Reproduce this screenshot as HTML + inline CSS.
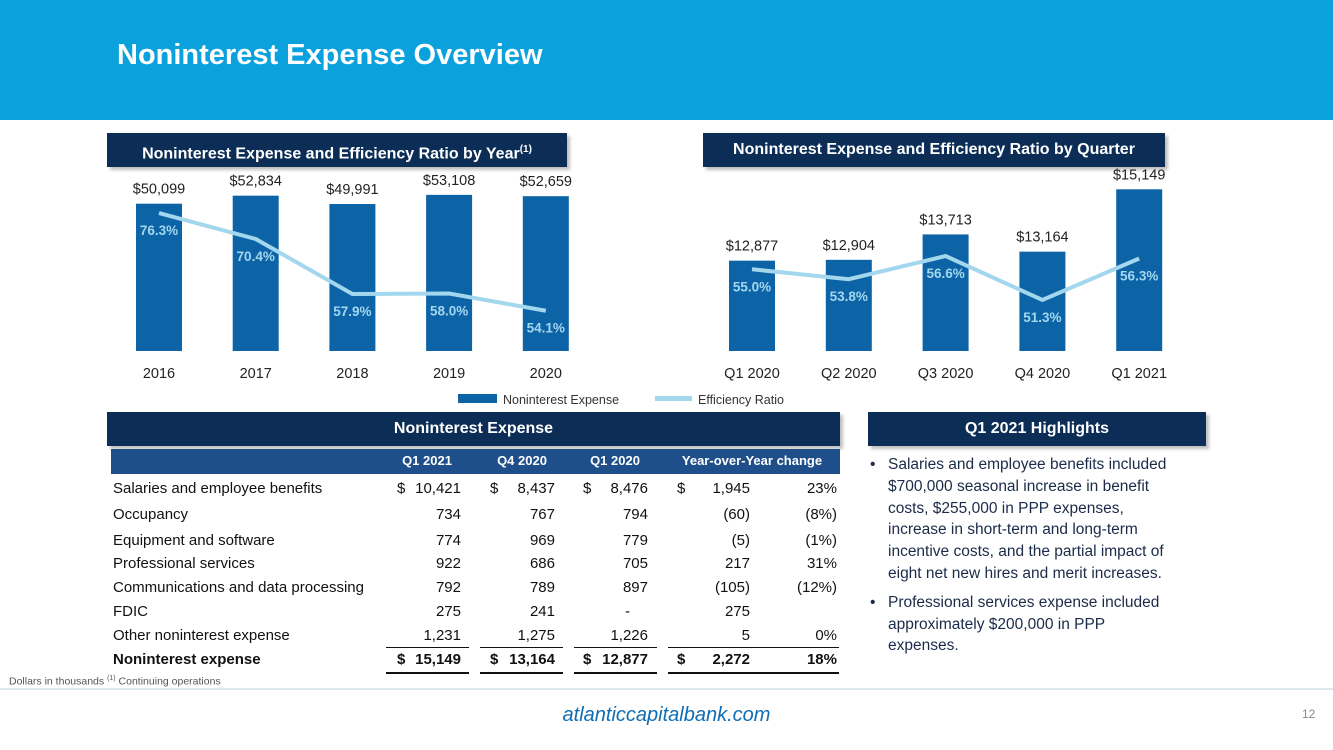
<!DOCTYPE html>
<html><head><meta charset="utf-8"><style>
body{margin:0;width:1333px;height:750px;position:relative;background:#fff;font-family:"Liberation Sans",sans-serif;overflow:hidden}
.abs{position:absolute}
.navy{background:#0b2d56;color:#fff;font-weight:bold;font-size:16px;text-align:center;box-shadow:3px 3px 3px rgba(0,0,0,.25)}
.t{position:absolute;font-size:15px;color:#111;white-space:nowrap}
.r{text-align:right}
</style></head><body>
<div class="abs" style="left:0;top:0;width:1333px;height:120px;background:#0aa1dd"></div>
<div class="abs" style="left:117px;top:39px;font-size:29px;font-weight:bold;color:#fff">Noninterest Expense Overview</div>

<div class="abs navy" style="left:107px;top:133px;width:460px;height:34px;line-height:34px">Noninterest Expense and Efficiency Ratio by Year<sup style="font-size:10px">(1)</sup></div>
<div class="abs navy" style="left:703px;top:133px;width:462px;height:34px;line-height:34px">Noninterest Expense and Efficiency Ratio by Quarter</div>

<svg class="abs" style="left:0;top:0" width="1333" height="420" id="svg"></svg>

<div class="abs navy" style="left:107px;top:412px;width:733px;height:34px;line-height:34px">Noninterest Expense</div>
<div class="abs" style="left:111px;top:449px;width:729px;height:25px;background:#1f4f8b"></div>
<div id="table"></div>

<div class="abs navy" style="left:868px;top:412px;width:338px;height:34px;line-height:34px">Q1 2021 Highlights</div>
<div class="abs" style="left:870px;top:454px;font-size:15.5px;line-height:21.8px;color:#1b2b48;white-space:nowrap">
<div style="position:relative;padding-left:18px"><span style="position:absolute;left:0">•</span>Salaries and employee benefits included<br>$700,000 seasonal increase in benefit<br>costs, $255,000 in PPP expenses,<br>increase in short-term and long-term<br>incentive costs, and the partial impact of<br>eight net new hires and merit increases.</div>
<div style="position:relative;padding-left:18px;margin-top:7px"><span style="position:absolute;left:0">•</span>Professional services expense included<br>approximately $200,000 in PPP<br>expenses.</div>
</div>

<div class="abs" style="left:9px;top:675px;font-size:10.5px;color:#555">Dollars in thousands <sup style="font-size:7px">(1)</sup> Continuing operations</div>
<div class="abs" style="left:0;top:688px;width:1333px;height:2px;background:#dce8ee"></div>
<div class="abs" style="left:0;width:1333px;top:704px;text-align:center;font-size:20px;font-style:italic;color:#0f6db4">atlanticcapitalbank.com</div>
<div class="abs" style="left:1302px;top:707px;font-size:12px;color:#888">12</div>

<script>
const yearCats=["2016","2017","2018","2019","2020"];
const yearExpense=[50099,52834,49991,53108,52659];
const yearRatio=[76.3,70.4,57.9,58.0,54.1];
const qCats=["Q1 2020","Q2 2020","Q3 2020","Q4 2020","Q1 2021"];
const qExpense=[12877,12904,13713,13164,15149];
const qRatio=[55.0,53.8,56.6,51.3,56.3];

const NS="http://www.w3.org/2000/svg";
const svg=document.getElementById('svg');
function mk(tag,attrs,txt){const e=document.createElementNS(NS,tag);for(const k in attrs)e.setAttribute(k,attrs[k]);if(txt!=null)e.textContent=txt;svg.appendChild(e);return e;}
const fmt=v=>"$"+v.toLocaleString("en-US");
function chart(cats,exp,ratio,x0,step,barY,lineY,prefix){
  const base=351,bw=46;const pts=[];
  cats.forEach((c,i)=>{
    const cx=x0+i*step;const top=barY(exp[i]);
    const b=mk('rect',{x:cx-bw/2,y:top,width:bw,height:base-top,fill:'#0c63a6'});
    
    
    const l=mk('text',{x:cx,y:top-10,'text-anchor':'middle','font-size':14.5,fill:'#222'},fmt(exp[i]));
    
    
    const xl=mk('text',{x:cx,y:378,'text-anchor':'middle','font-size':14.5,fill:'#222'},c);
    
    
    pts.push([cx,lineY(ratio[i])]);
  });
  const ln=mk('polyline',{points:pts.map(p=>p.join(',')).join(' '),fill:'none',stroke:'#a3d7ee','stroke-width':4});
  
  
  pts.forEach((p,i)=>{
    const t=mk('text',{x:p[0],y:p[1]+22,'text-anchor':'middle','font-size':13.5,'font-weight':'bold',fill:'#a3d7ee'},ratio[i].toFixed(1)+"%");
    
    
  });
}
chart(yearCats,yearExpense,yearRatio,159,96.7,v=>351-v*0.00294,v=>294-(v-57.9)*4.4,'year');
chart(qCats,qExpense,qRatio,752,96.8,v=>351-(v-10000)*0.0314,v=>256-(v-56.6)*8.3,'quarter');
let e=mk('rect',{x:458,y:394,width:39,height:9,fill:'#0c63a6'});

e=mk('text',{x:503,y:404,'font-size':12.5,fill:'#333'},'Noninterest Expense');

e=mk('rect',{x:655,y:396,width:37,height:5,fill:'#a3d7ee'});

e=mk('text',{x:698,y:404,'font-size':12.5,fill:'#333'},'Efficiency Ratio');


const tb=document.getElementById('table');
const heads=[["Q1 2021",427],["Q4 2020",522],["Q1 2020",615],["Year-over-Year change",752]];
let h='';
heads.forEach(a=>{h+=`<div class="t" style="left:${a[1]-100}px;width:200px;text-align:center;top:453px;color:#fff;font-weight:bold;font-size:13px">${a[0]}</div>`;});
const rows=[
["Salaries and employee benefits","10,421","8,437","8,476","1,945","23%",1],
["Occupancy","734","767","794","(60)","(8%)",0],
["Equipment and software","774","969","779","(5)","(1%)",0],
["Professional services","922","686","705","217","31%",0],
["Communications and data processing","792","789","897","(105)","(12%)",0],
["FDIC","275","241","-","275","",0],
["Other noninterest expense","1,231","1,275","1,226","5","0%",0],
["Noninterest expense","15,149","13,164","12,877","2,272","18%",1]];
const ys=[489,515,541,564,588,612,636,660];
const rights=[461,555,648,750,837];const dollars=[397,490,583,677];
rows.forEach((r,i)=>{
  const y=ys[i]-9;const bold=i==7?'font-weight:bold;':'';
  h+=`<div class="t" style="left:113px;top:${y}px;${bold}">${r[0]}</div>`;
  for(let c=0;c<5;c++){
    h+=`<div class="t r" style="left:${rights[c]-100}px;width:100px;top:${y}px;${bold}${r[0]=="FDIC"&&c==2?'padding-right:18px;width:82px;':''}">${r[c+1]}</div>`;
    if(r[6]&&c<4) h+=`<div class="t" style="left:${dollars[c]}px;top:${y}px;${bold}">$</div>`;
  }
});
[[386,469],[480,563],[574,657],[668,839]].forEach(a=>{
  h+=`<div class="abs" style="left:${a[0]}px;width:${a[1]-a[0]}px;top:647px;height:1px;background:#111"></div>`;
  h+=`<div class="abs" style="left:${a[0]}px;width:${a[1]-a[0]}px;top:672px;height:2px;background:#111"></div>`;
});
tb.innerHTML=h;
</script>
</body></html>
